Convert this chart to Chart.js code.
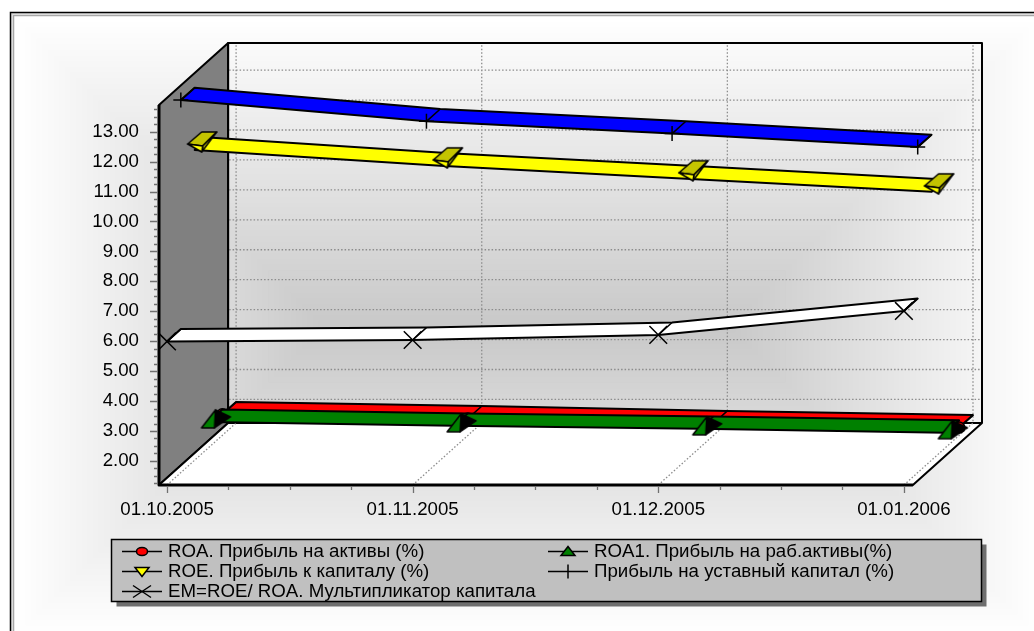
<!DOCTYPE html>
<html>
<head>
<meta charset="utf-8">
<script src="https://cdn.jsdelivr.net/npm/chart.js@4"></script>
<style>
  html, body { margin: 0; padding: 0; background: #fff; overflow: hidden; }
  canvas { display: block; }
</style>
</head>
<body>
<canvas id="chart" width="1034" height="631"></canvas>
<script>
const categories = ["01.10.2005", "01.11.2005", "01.12.2005", "01.01.2006"];
const roaValues = [1.90, 1.76, 1.60, 1.46];
const roa1Values = [2.06, 1.93, 1.83, 1.70];
const roeValues = [11.56, 11.03, 10.60, 10.16];
const charterValues = [13.64, 12.93, 12.52, 12.07];
const emValues = [5.99, 6.04, 6.21, 7.01];

const roaLabel = "ROA. Прибыль на активы (%)";
const roa1Label = "ROA1. Прибыль на раб.активы(%)";
const roeLabel = "ROE. Прибыль к капиталу (%)";
const charterLabel = "Прибыль на уставный капитал (%)";
const emLabel = "EM=ROE/ ROA. Мультипликатор капитала";

// one depth slot of the fake 3D box, in axis units
const slotX = 0.05626;
const slotY = 0.4143;
const slots = 5;
const frontMaxX = 3.0367;
const frontMinY = 1.196;
const frontMaxY = 13.89;
const xMin = -0.0326;

const fontFamily = "'Liberation Sans', Arial, sans-serif";
const fontSize = 18.7;

function markerCanvas(paint) {
  const c = document.createElement("canvas");
  c.width = 64;
  c.height = 64;
  const g = c.getContext("2d");
  g.translate(32, 32);
  g.lineWidth = 1.5;
  g.strokeStyle = "#000";
  g.lineJoin = "round";
  paint(g);
  return c;
}

function poly(g, pts, fill) {
  g.beginPath();
  pts.forEach((p, i) => (i ? g.lineTo(p[0], p[1]) : g.moveTo(p[0], p[1])));
  g.closePath();
  if (fill) {
    g.fillStyle = fill;
    g.fill();
  }
  g.stroke();
}

const roeMarker = markerCanvas((g) => {
  poly(g, [[-7, -6], [7, -18], [22, -18], [8, -4]], "#c4c400");
  poly(g, [[8, -4], [22, -18], [7, 2]], "#c4c400");
  poly(g, [[-7, -6], [8, -4], [7, 2]], "#ffff00");
});

const roa1Marker = markerCanvas((g) => {
  poly(g, [[7, -12], [22, -5], [6, 6]], "#000");
  poly(g, [[-7, 6], [6, 6], [7, -12]], "#008000");
});

function series(values, label, color, slot, order, marker) {
  return {
    label,
    ribbon: color,
    slot,
    order,
    clip: false,
    showLine: false,
    data: values.map((v, i) => ({ x: i + slot * slotX, y: v + slot * slotY })),
    pointStyle: marker.style,
    pointRadius: marker.radius,
    pointBorderColor: "#000",
    pointBorderWidth: 1.5,
    pointBackgroundColor: marker.fill || "#000"
  };
}

const backdrop = {
  id: "backdrop",
  beforeDraw(chart) {
    const ctx = chart.ctx;
    ctx.save();
    ctx.fillStyle = "#fff";
    ctx.fillRect(0, 0, 1034, 631);
    // stepped gradient: grey level follows the inset from the frame
    const left = 14, top = 16, w = 1026, h = 621, steps = 55;
    for (let i = 0; i < steps; i += 1) {
      const inset = (i / steps) * (h / 2);
      const shade = 255 - i;
      ctx.fillStyle = `rgb(${shade},${shade},${shade})`;
      ctx.fillRect(left + inset, top + inset, w - inset * 2, h - inset * 2);
    }
    ctx.lineWidth = 1.5;
    ctx.strokeStyle = "#a8a8a8";
    ctx.strokeRect(13.5, 15.5, 1040, 640);
    ctx.strokeStyle = "#d8d8d8";
    ctx.strokeRect(12, 14, 1040, 640);
    ctx.strokeStyle = "#000";
    ctx.strokeRect(10.5, 12.5, 1040, 640);
    ctx.restore();
  }
};

const box = {
  id: "box",
  beforeDatasetsDraw(chart) {
    const { ctx, scales: { x, y } } = chart;
    const px = (v, s) => x.getPixelForValue(v + s * slotX);
    const py = (v, s) => y.getPixelForValue(v + s * slotY);
    ctx.save();

    // left wall
    ctx.lineJoin = "round";
    ctx.lineWidth = 2;
    ctx.strokeStyle = "#000";
    ctx.fillStyle = "#808080";
    ctx.beginPath();
    ctx.moveTo(px(xMin, 0), py(frontMaxY, 0));
    ctx.lineTo(px(xMin, slots), py(frontMaxY, slots));
    ctx.lineTo(px(xMin, slots), py(frontMinY, slots));
    ctx.lineTo(px(xMin, 0), py(frontMinY, 0));
    ctx.closePath();
    ctx.fill();
    ctx.stroke();

    // floor
    ctx.fillStyle = "#fff";
    ctx.beginPath();
    ctx.moveTo(px(xMin, 0), py(frontMinY, 0));
    ctx.lineTo(px(frontMaxX, 0), py(frontMinY, 0));
    ctx.lineTo(px(frontMaxX, slots), py(frontMinY, slots));
    ctx.lineTo(px(xMin, slots), py(frontMinY, slots));
    ctx.closePath();
    ctx.fill();
    ctx.stroke();

    // grid lines on back wall and floor
    ctx.lineWidth = 1.3;
    ctx.strokeStyle = "#8c8c8c";
    ctx.setLineDash([1.5, 2]);
    ctx.beginPath();
    for (let v = 2; v <= 13; v += 1) {
      ctx.moveTo(px(xMin, slots) + 1, py(v, slots) + 0.5);
      ctx.lineTo(px(frontMaxX, slots), py(v, slots) + 0.5);
    }
    categories.forEach((_, i) => {
      ctx.moveTo(px(i, 0), py(frontMinY, 0));
      ctx.lineTo(px(i, slots), py(frontMinY, slots));
      ctx.lineTo(px(i, slots), py(frontMaxY, slots));
    });
    ctx.stroke();
    ctx.setLineDash([]);

    // back wall outline
    ctx.lineWidth = 2;
    ctx.strokeStyle = "#000";
    ctx.beginPath();
    ctx.moveTo(px(xMin, slots), py(frontMinY, slots));
    ctx.lineTo(px(xMin, slots), py(frontMaxY, slots));
    ctx.lineTo(px(frontMaxX, slots), py(frontMaxY, slots));
    ctx.lineTo(px(frontMaxX, slots), py(frontMinY, slots));
    ctx.stroke();

    // axis lines and tick marks
    ctx.lineWidth = 3;
    ctx.beginPath();
    ctx.moveTo(px(xMin, 0), py(frontMaxY, 0));
    ctx.lineTo(px(xMin, 0), py(frontMinY, 0));
    ctx.lineTo(px(frontMaxX, 0), py(frontMinY, 0));
    ctx.stroke();
    ctx.lineWidth = 1.3;
    ctx.strokeStyle = "#707070";
    ctx.beginPath();
    y.ticks.forEach((t) => {
      const pos = Math.round(y.getPixelForValue(t.value)) + 0.5;
      ctx.moveTo(x.left - 1, pos);
      ctx.lineTo(x.left - (Number.isInteger(t.value) ? 9 : 5), pos);
    });
    x.ticks.forEach((t) => {
      const pos = Math.round(x.getPixelForValue(t.value)) + 0.5;
      ctx.moveTo(pos, y.bottom + 1);
      ctx.lineTo(pos, y.bottom + (Number.isInteger(t.value) ? 8 : 5));
    });
    ctx.stroke();
    ctx.restore();
  },

  // ribbon of each series goes right behind its own markers
  beforeDatasetDraw(chart, args) {
    const { ctx, scales: { x, y } } = chart;
    const ds = chart.data.datasets[args.index];
    const pts = args.meta.data;
    const back = args.meta._parsed.map((p) => ({
      x: x.getPixelForValue(p.x + slotX),
      y: y.getPixelForValue(p.y + slotY)
    }));
    ctx.save();
    ctx.lineWidth = 2;
    ctx.lineJoin = "round";
    ctx.strokeStyle = "#000";
    ctx.fillStyle = ds.ribbon;
    ctx.beginPath();
    pts.forEach((p, i) => (i ? ctx.lineTo(p.x, p.y) : ctx.moveTo(p.x, p.y)));
    for (let i = back.length - 1; i >= 0; i -= 1) ctx.lineTo(back[i].x, back[i].y);
    ctx.closePath();
    ctx.fill();
    ctx.stroke();
    ctx.lineWidth = 1.5;
    ctx.beginPath();
    pts.forEach((p, i) => {
      ctx.moveTo(p.x, p.y);
      ctx.lineTo(back[i].x, back[i].y);
    });
    ctx.stroke();
    ctx.restore();
  }
};

const legendRows = [
  { label: roaLabel, col: 0, row: 0, mark: "circle" },
  { label: roa1Label, col: 1, row: 0, mark: "up" },
  { label: roeLabel, col: 0, row: 1, mark: "down" },
  { label: charterLabel, col: 1, row: 1, mark: "plus" },
  { label: emLabel, col: 0, row: 2, mark: "cross" }
];

const legendBox = {
  id: "legendBox",
  afterDraw(chart) {
    const ctx = chart.ctx;
    const lx = 111.5, ly = 539.5, lw = 870, lh = 62;
    const colX = [122, 548];
    ctx.save();
    ctx.fillStyle = "#6e6e6e";
    ctx.fillRect(lx + 5, ly + 5, lw, lh);
    ctx.fillStyle = "#c0c0c0";
    ctx.lineWidth = 1.5;
    ctx.strokeStyle = "#000";
    ctx.fillRect(lx, ly, lw, lh);
    ctx.strokeRect(lx, ly, lw, lh);
    ctx.font = `${fontSize}px ${fontFamily}`;
    ctx.textBaseline = "middle";
    legendRows.forEach((item) => {
      const x0 = colX[item.col];
      const cy = 551.5 + item.row * 20;
      const cx = x0 + 20;
      ctx.strokeStyle = "#000";
      ctx.lineWidth = 1.5;
      ctx.beginPath();
      ctx.moveTo(x0, cy);
      ctx.lineTo(x0 + 40, cy);
      ctx.stroke();
      if (item.mark === "circle") {
        ctx.fillStyle = "#ff0000";
        ctx.beginPath();
        ctx.ellipse(cx, cy, 5.5, 4, 0, 0, Math.PI * 2);
        ctx.fill();
        ctx.stroke();
      } else if (item.mark === "up" || item.mark === "down") {
        const s = item.mark === "up" ? 1 : -1;
        ctx.fillStyle = item.mark === "up" ? "#008000" : "#ffff00";
        ctx.beginPath();
        ctx.moveTo(cx - 7, cy + s * 4);
        ctx.lineTo(cx + 7, cy + s * 4);
        ctx.lineTo(cx, cy - s * 5);
        ctx.closePath();
        ctx.fill();
        ctx.stroke();
      } else if (item.mark === "plus") {
        ctx.beginPath();
        ctx.moveTo(cx, cy - 7);
        ctx.lineTo(cx, cy + 7);
        ctx.stroke();
      } else {
        ctx.beginPath();
        ctx.moveTo(cx - 9, cy + 6);
        ctx.lineTo(cx + 9, cy - 6);
        ctx.moveTo(cx - 9, cy - 6);
        ctx.lineTo(cx + 9, cy + 6);
        ctx.stroke();
      }
      ctx.fillStyle = "#000";
      ctx.fillText(item.label, x0 + 46, cy);
    });
    ctx.restore();
  }
};

new Chart(document.getElementById("chart"), {
  type: "scatter",
  data: {
    datasets: [
      series(emValues, emLabel, "#ffffff", 0, 1, { style: "crossRot", radius: 12.5 }),
      series(charterValues, charterLabel, "#0000ff", 1, 2, { style: "cross", radius: 7.5 }),
      series(roeValues, roeLabel, "#ffff00", 2, 3, { style: roeMarker }),
      series(roa1Values, roa1Label, "#008000", 3, 4, { style: roa1Marker }),
      series(roaValues, roaLabel, "#ff0000", 4, 5, { style: "circle", radius: 5.5, fill: "#ff0000" })
    ]
  },
  options: {
    responsive: false,
    animation: false,
    events: [],
    layout: { padding: { top: 43, right: 52, left: 0, bottom: 0 } },
    plugins: { legend: { display: false }, tooltip: { enabled: false } },
    scales: {
      x: {
        type: "linear",
        min: xMin,
        max: frontMaxX + slots * slotX,
        grid: { display: false },
        border: { display: false },
        afterFit(scale) { scale.height = 146; },
        afterBuildTicks(scale) {
          const ticks = [];
          for (let v = 0; v <= 3; v += 0.25) ticks.push({ value: v });
          scale.ticks = ticks;
        },
        ticks: {
          autoSkip: false,
          maxRotation: 0,
          padding: 6,
          color: "#000",
          font: { family: fontFamily, size: fontSize },
          callback: (v) => (Number.isInteger(v) ? categories[v] : "")
        }
      },
      y: {
        min: frontMinY,
        max: frontMaxY + slots * slotY,
        grid: { display: false },
        border: { display: false },
        afterFit(scale) { scale.width = 159; },
        afterBuildTicks(scale) {
          const ticks = [];
          for (let v = 1.25; v <= 13.75; v += 0.25) ticks.push({ value: v });
          scale.ticks = ticks;
        },
        ticks: {
          autoSkip: false,
          padding: 12,
          color: "#000",
          font: { family: fontFamily, size: fontSize },
          callback: (v) => (Number.isInteger(v) && v >= 2 && v <= 13 ? v.toFixed(2) : "")
        }
      }
    }
  },
  plugins: [backdrop, box, legendBox]
});
</script>
</body>
</html>
